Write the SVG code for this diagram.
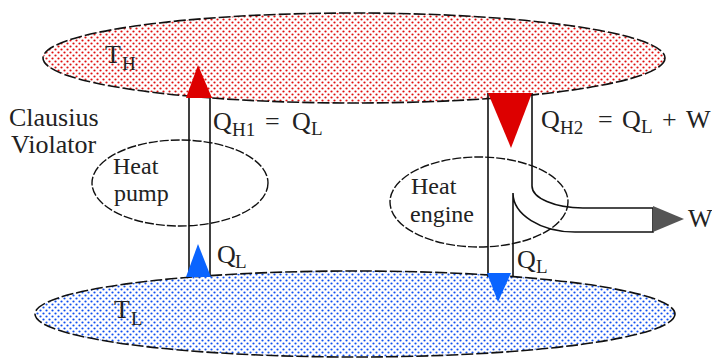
<svg xmlns="http://www.w3.org/2000/svg" width="712" height="362" viewBox="0 0 712 362">
<defs>
<pattern id="redDots" width="6" height="6" patternUnits="userSpaceOnUse">
<rect width="6" height="6" fill="#fff"/>
<circle cx="1.5" cy="1.5" r="1.1" fill="#e01010"/>
<circle cx="4.5" cy="4.5" r="1.1" fill="#e01010"/>
</pattern>
<pattern id="blueDots" width="6" height="6" patternUnits="userSpaceOnUse">
<rect width="6" height="6" fill="#fff"/>
<circle cx="1.5" cy="1.5" r="1.1" fill="#1050f0"/>
<circle cx="4.5" cy="4.5" r="1.1" fill="#1050f0"/>
</pattern>
</defs>
<style>
text{font-family:"Liberation Serif","Times New Roman",serif;font-size:26px;fill:#222}
.sub{font-size:19px}
.dl{font-size:24px}
.res{stroke:#111;stroke-width:1.6;stroke-dasharray:12 3}
.dev{fill:none;stroke:#111;stroke-width:1.4;stroke-dasharray:9 2}
.pipe{fill:none;stroke:#111;stroke-width:1.6}
</style>
<rect width="712" height="362" fill="#fff"/>
<g id="hot-reservoir">
<ellipse class="res" cx="354" cy="58" rx="311" ry="45" fill="url(#redDots)"/>
<text x="105" y="63">T</text><text class="sub" x="122" y="70">H</text>
</g>
<g id="cold-reservoir">
<ellipse class="res" cx="355" cy="314" rx="320" ry="43" fill="url(#blueDots)"/>
<text x="114" y="318">T</text><text class="sub" x="131" y="325">L</text>
</g>
<g id="heat-pump">
<ellipse class="dev" cx="180" cy="183" rx="88" ry="43"/>
<text class="dl" x="113" y="174">Heat</text>
<text class="dl" x="114" y="201">pump</text>
</g>
<g id="heat-engine">
<ellipse class="dev" cx="479" cy="202" rx="89" ry="45"/>
<text class="dl" x="411" y="194">Heat</text>
<text class="dl" x="410" y="222">engine</text>
</g>
<g id="clausius-label">
<text x="9" y="126">Clausius</text>
<text x="11" y="153">Violator</text>
</g>
<g id="connectors">
<path class="pipe" d="M189,98 V277 M210,98 V277"/>
<polygon points="198,65 186,98 212,98" fill="#dd0000"/>
<polygon points="198,244 186,277 211,277" fill="#0a64ff"/>
<path class="pipe" d="M488,93 V277"/>
<path class="pipe" d="M532,93 V186 A51,22 0 0 0 583,208 H653 V232 H575 A62,39 0 0 1 513,193 V277"/>
<polygon points="488,93 532,93 511,148" fill="#dd0000"/>
<path d="M487,273 H511 L498,302 Z" fill="#0a64ff"/>
<polygon points="653,206 653,232 684,219" fill="#555"/>
</g>
<g id="labels">
<text x="213" y="130">Q</text><text class="sub" x="232" y="136">H1</text><text x="265" y="130">=</text><text x="292" y="130">Q</text><text class="sub" x="311" y="135">L</text>
<text x="541" y="128">Q</text><text class="sub" x="560" y="134">H2</text><text x="598" y="128">=</text><text x="622" y="128">Q</text><text class="sub" x="641" y="133">L</text><text x="662" y="128">+</text><text x="686" y="128">W</text>
<text x="217" y="263">Q</text><text class="sub" x="235" y="268">L</text>
<text x="517" y="268">Q</text><text class="sub" x="536" y="273">L</text>
<text x="688" y="227">W</text>
</g>
</svg>
